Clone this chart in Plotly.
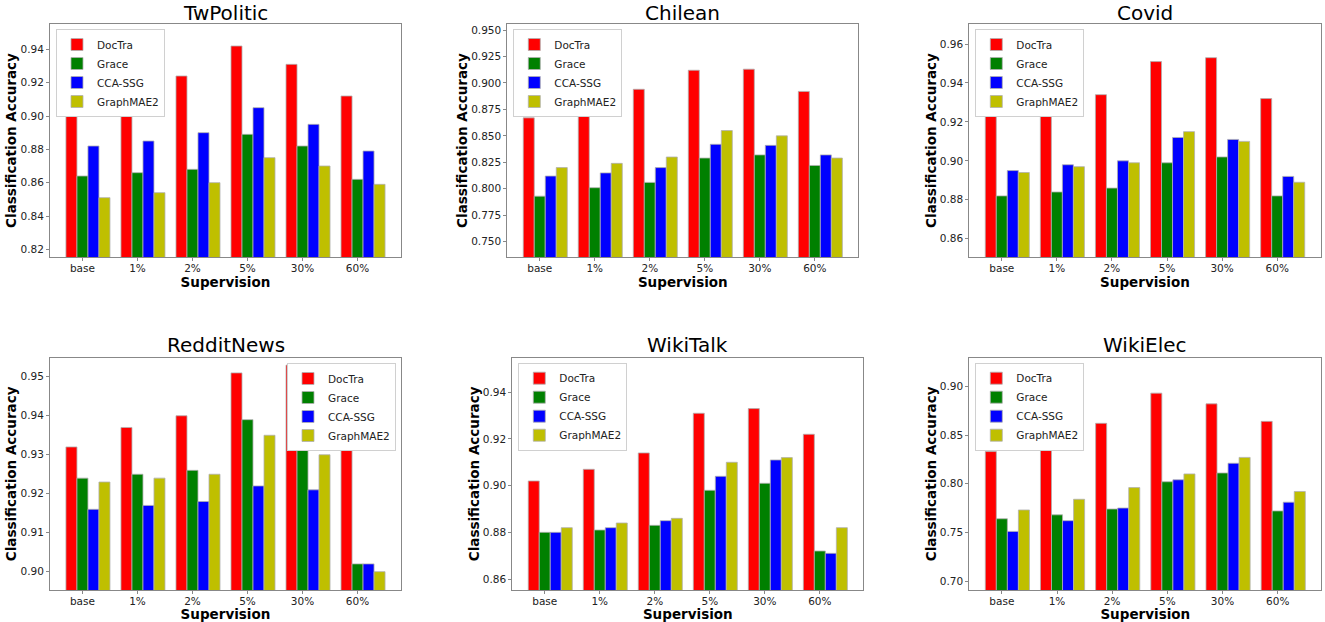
import plotly.graph_objects as go

categories = ["base", "1%", "2%", "5%", "30%", "60%"]
methods = ["DocTra", "Grace", "CCA-SSG", "GraphMAE2"]
colors = ["#FF0000", "#008000", "#0000FF", "#BFBF00"]

datasets = ["TwPolitic", "Chilean", "Covid", "RedditNews", "WikiTalk", "WikiElec"]

twpolitic_doctra = [0.906, 0.912, 0.924, 0.942, 0.931, 0.912]
twpolitic_grace = [0.864, 0.866, 0.868, 0.889, 0.882, 0.862]
twpolitic_cca = [0.882, 0.885, 0.890, 0.905, 0.895, 0.879]
twpolitic_gmae = [0.851, 0.854, 0.860, 0.875, 0.870, 0.859]

chilean_doctra = [0.867, 0.882, 0.894, 0.912, 0.913, 0.892]
chilean_grace = [0.793, 0.801, 0.806, 0.829, 0.832, 0.822]
chilean_cca = [0.812, 0.815, 0.820, 0.842, 0.841, 0.832]
chilean_gmae = [0.820, 0.824, 0.830, 0.855, 0.850, 0.829]

covid_doctra = [0.923, 0.927, 0.934, 0.951, 0.953, 0.932]
covid_grace = [0.882, 0.884, 0.886, 0.899, 0.902, 0.882]
covid_cca = [0.895, 0.898, 0.900, 0.912, 0.911, 0.892]
covid_gmae = [0.894, 0.897, 0.899, 0.915, 0.910, 0.889]

reddit_doctra = [0.932, 0.937, 0.940, 0.951, 0.953, 0.932]
reddit_grace = [0.924, 0.925, 0.926, 0.939, 0.932, 0.902]
reddit_cca = [0.916, 0.917, 0.918, 0.922, 0.921, 0.902]
reddit_gmae = [0.923, 0.924, 0.925, 0.935, 0.930, 0.900]

wikitalk_doctra = [0.902, 0.907, 0.914, 0.931, 0.933, 0.922]
wikitalk_grace = [0.880, 0.881, 0.883, 0.898, 0.901, 0.872]
wikitalk_cca = [0.880, 0.882, 0.885, 0.904, 0.911, 0.871]
wikitalk_gmae = [0.882, 0.884, 0.886, 0.910, 0.912, 0.882]

wikielec_doctra = [0.833, 0.851, 0.862, 0.893, 0.882, 0.864]
wikielec_grace = [0.764, 0.768, 0.774, 0.802, 0.811, 0.772]
wikielec_cca = [0.751, 0.762, 0.775, 0.804, 0.821, 0.781]
wikielec_gmae = [0.773, 0.784, 0.796, 0.810, 0.827, 0.792]

series = [
    [twpolitic_doctra, twpolitic_grace, twpolitic_cca, twpolitic_gmae],
    [chilean_doctra, chilean_grace, chilean_cca, chilean_gmae],
    [covid_doctra, covid_grace, covid_cca, covid_gmae],
    [reddit_doctra, reddit_grace, reddit_cca, reddit_gmae],
    [wikitalk_doctra, wikitalk_grace, wikitalk_cca, wikitalk_gmae],
    [wikielec_doctra, wikielec_grace, wikielec_cca, wikielec_gmae],
]

y_ranges = [
    [0.8154, 0.9552], [0.7355, 0.9557], [0.8506, 0.9703],
    [0.8953, 0.9549], [0.8553, 0.9548], [0.6908, 0.9294],
]
y_dticks = [0.02, 0.025, 0.02, 0.01, 0.02, 0.05]
y_formats = [".2f", ".3f", ".2f", ".2f", ".2f", ".2f"]

W, H = 1325, 622
# plot-area pixel boxes (x0, x1, ytop, ybottom)
boxes = [
    (50, 401, 24, 257), (507.3, 858.3, 24, 257), (969.3, 1320.7, 24, 257),
    (50, 401, 357.7, 590), (512.3, 863.3, 357.7, 590), (969.3, 1321.3, 357.7, 590),
]
# legend anchor (x, y, xanchor)
legend_pos = [
    (56, 29, "left"), (513.3, 29, "left"), (975.3, 29, "left"),
    (396, 363, "right"), (518.3, 362.7, "left"), (975.3, 362.7, "left"),
]
title_y = [13, 13, 13, 345, 345, 345]

offsets = [-0.3, -0.1, 0.1, 0.3]
xpos = list(range(len(categories)))

fig = go.Figure()
layout = dict(
    width=W, height=H, margin=dict(l=0, r=0, t=0, b=0, autoexpand=False),
    plot_bgcolor="white", paper_bgcolor="white",
    font=dict(family="DejaVu Sans", color="black", size=10),
    barmode="overlay", annotations=[],
)

axis_common = dict(showline=True, linecolor="#888888", linewidth=1, mirror=True,
                   showgrid=False, zeroline=False, ticks="outside", ticklen=3,
                   tickcolor="#888888", automargin=False,
                   tickfont=dict(size=10.5, color="#222222"))

for k in range(6):
    sfx = "" if k == 0 else str(k + 1)
    xa, ya = "x" + sfx, "y" + sfx
    lg = "legend" if k == 0 else "legend" + str(k + 1)
    for m in range(4):
        fig.add_trace(go.Bar(
            x=xpos, y=series[k][m], name=methods[m], xaxis=xa, yaxis=ya,
            width=0.2, offset=offsets[m],
            marker=dict(color=colors[m], line=dict(color="#b0b0b0", width=0.8)),
            legend=lg,
        ))
    x0, x1, yt, yb = boxes[k]
    layout["xaxis" + sfx] = dict(
        domain=[x0 / W, x1 / W], anchor=ya, range=[-0.59, 5.79],
        tickvals=xpos, ticktext=categories, ticklabelstandoff=-2,
        title=dict(text="<b>Supervision</b>", font=dict(size=13.5), standoff=0),
        **axis_common)
    layout["yaxis" + sfx] = dict(
        domain=[1 - yb / H, 1 - yt / H], anchor=xa, range=y_ranges[k],
        dtick=y_dticks[k], tick0=0, tickformat=y_formats[k],
        title=dict(text="<b>Classification Accuracy</b>", font=dict(size=13.5), standoff=0),
        **axis_common)
    lx, ly, lxa = legend_pos[k]
    layout[lg] = dict(x=lx / W, y=1 - ly / H, xanchor=lxa, yanchor="top",
                      bgcolor="white", bordercolor="#d0d0d0", borderwidth=1,
                      font=dict(size=10.5, color="#222222"), tracegroupgap=0,
                      itemwidth=30)
    layout["annotations"].append(dict(
        text=datasets[k], x=(x0 + x1) / 2 / W, y=1 - title_y[k] / H,
        xref="paper", yref="paper", xanchor="center", yanchor="middle",
        showarrow=False, font=dict(size=20, color="black")))

fig.update_layout(**layout)
fig.write_html("out.html", config={"displayModeBar": False},
               post_script="document.body.style.margin='0';document.body.style.overflow='hidden';")
